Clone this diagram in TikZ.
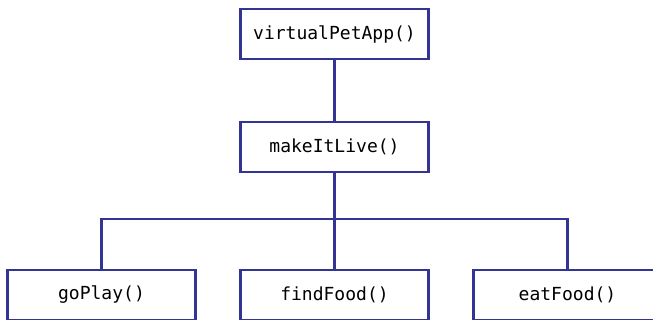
\documentclass[tikz,border=0pt]{standalone}
\usepackage{fontspec}
\setmonofont{DejaVu Sans Mono}
\definecolor{chartBlue}{RGB}{52, 52, 148}
\usetikzlibrary{positioning}

\begin{document}
\begin{tikzpicture}[
          x=1pt, y=1pt,
          node distance=63pt and 45pt,
          box/.style={rectangle, draw=chartBlue, line width=2.6pt, minimum width=188pt, minimum height=50pt, inner sep=0pt, outer sep=0pt, font=\ttfamily\fontsize{18}{20}\selectfont},
          link/.style={draw=chartBlue, line width=2.6pt}
        ]
          \useasboundingbox (0,0) rectangle (653,320);
          \clip (0,0) rectangle (653,320);

          \node[box] (app) at (334.5,286) {virtualPetApp()};
          \node[box, below=of app] (live) {makeItLive()};
          \node[box, below=98pt of live] (find) {findFood()};
          \node[box, left=of find] (play) {goPlay()};
          \node[box, right=of find] (eat) {eatFood()};

          \coordinate[below=47pt of live.south] (bus);

          \draw[link] (app) -- (live);
          \draw[link] (live) -- (find);
          \draw[link] (play.north) |- (bus) -| (eat.north);
        \end{tikzpicture}
\end{document}
